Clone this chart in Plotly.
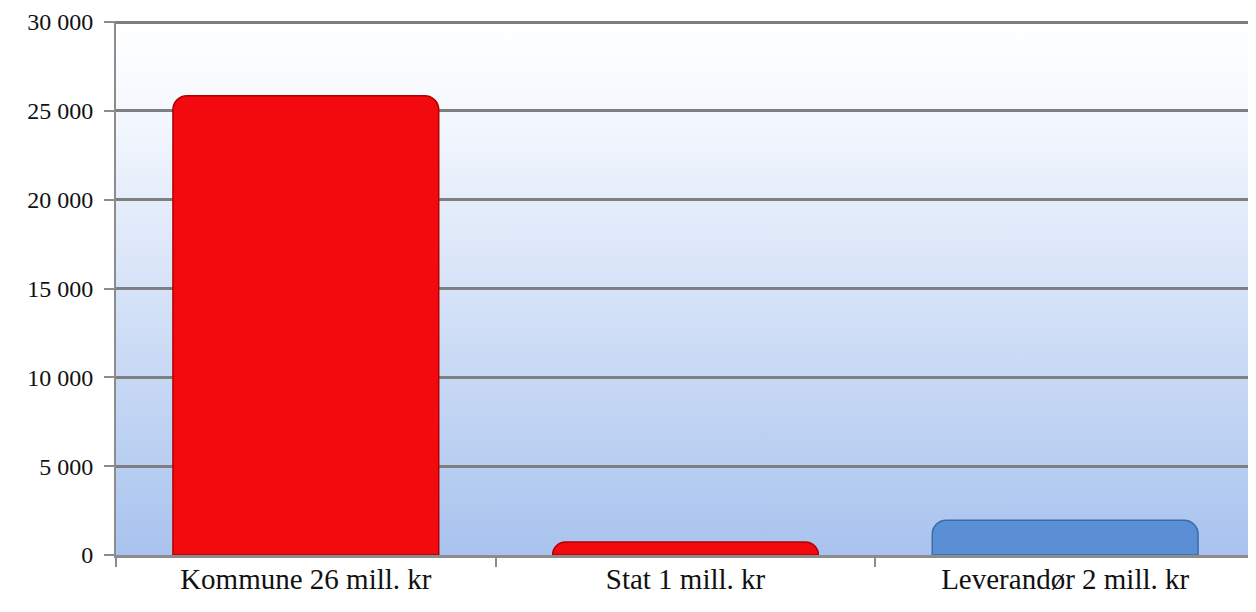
import plotly.graph_objects as go
import base64

categories = ["Kommune 26 mill. kr", "Stat 1 mill. kr", "Leverandør 2 mill. kr"]
values = [25850, 730, 1960]
bar_colors = ["#F20A0E", "#F20A0E", "#5A8FD6"]
line_colors = ["#B00000", "#B00000", "#3A6AAE"]
y_ticks = [0, 5000, 10000, 15000, 20000, 25000, 30000]

svg = ('<svg xmlns="http://www.w3.org/2000/svg" width="100" height="100" preserveAspectRatio="none">'
       '<defs><linearGradient id="g" x1="0" y1="0" x2="0" y2="1">'
       '<stop offset="0" stop-color="#FFFFFF"/><stop offset="0.15" stop-color="#F6F9FE"/>'
       '<stop offset="1" stop-color="#A9C3EE"/></linearGradient></defs>'
       '<rect width="100" height="100" fill="url(#g)"/></svg>')
bg_uri = "data:image/svg+xml;base64," + base64.b64encode(svg.encode()).decode()

font = "Liberation Serif, DejaVu Serif, serif"

fig = go.Figure()
fig.add_trace(go.Bar(
    x=categories, y=values,
    marker=dict(color=bar_colors, line=dict(color=line_colors, width=1.5), cornerradius=14),
    showlegend=False, hoverinfo="skip",
))

fig.update_layout(
    width=1248, height=604,
    margin=dict(l=108, r=1, t=13, b=57, autoexpand=False),
    paper_bgcolor="white",
    plot_bgcolor="rgba(0,0,0,0)",
    bargap=0.3,
    separators=", ",
    font=dict(family=font, color="#111111"),
    images=[dict(source=bg_uri, xref="paper", yref="paper", x=0, y=1, sizex=1, sizey=1,
                 sizing="stretch", layer="below")],
)
fig.update_yaxes(
    range=[0, 30060], tickvals=y_ticks, tickformat=",d",
    showgrid=True, gridcolor="#7F7F7F", gridwidth=3,
    showline=True, linecolor="#8C8C8C", linewidth=2,
    ticks="outside", ticklen=10, tickcolor="#8C8C8C", tickwidth=2,
    tickfont=dict(size=24, family=font), ticklabelstandoff=6,
    ticklabeloverflow="allow",
    zeroline=False, automargin=False,
)
fig.update_xaxes(
    showline=True, linecolor="#8C8C8C", linewidth=3,
    ticks="outside", tickson="boundaries", ticklen=9, tickcolor="#8C8C8C", tickwidth=2,
    tickfont=dict(size=29, family=font), ticklabelstandoff=-4, automargin=False,
)

fig.write_html("out.html")
